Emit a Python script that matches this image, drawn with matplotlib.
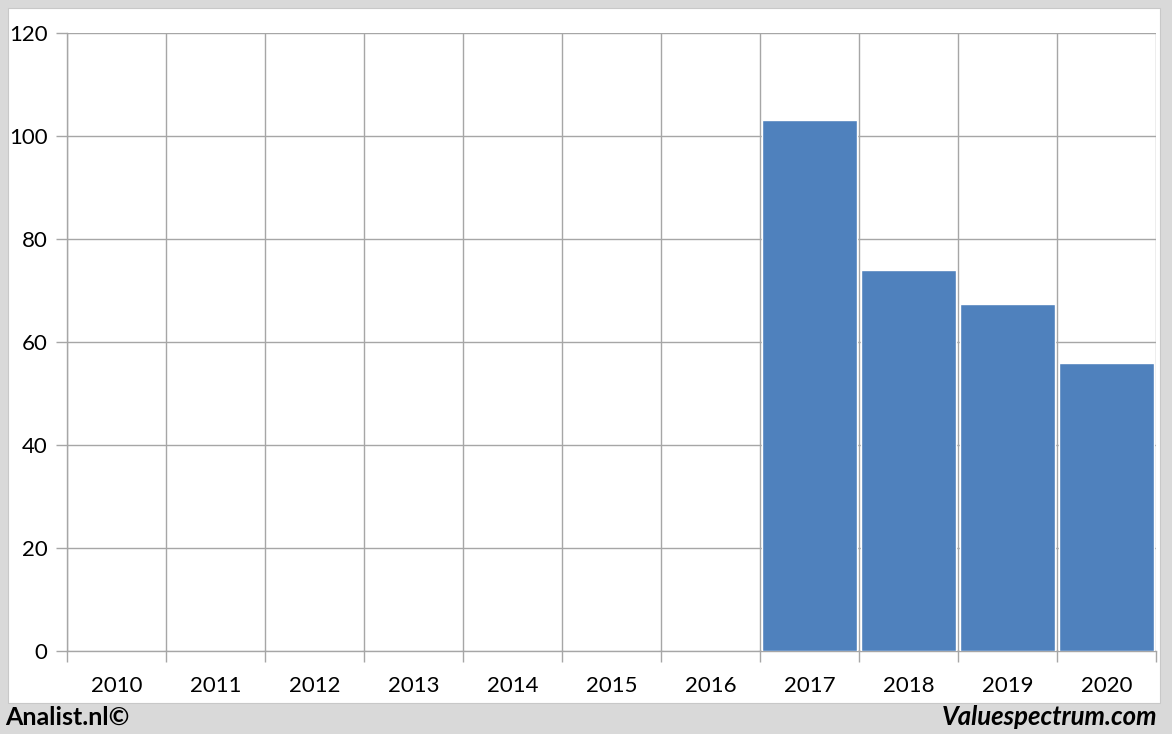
import matplotlib
matplotlib.use("Agg")
import matplotlib.pyplot as plt
from matplotlib.patches import Rectangle
import numpy as np

years = ["2010", "2011", "2012", "2013", "2014", "2015", "2016", "2017", "2018", "2019", "2020"]
values = [0, 0, 0, 0, 0, 0, 0, 103.2, 73.9, 67.3, 55.9]
yticks = [0, 20, 40, 60, 80, 100, 120]

W, H = 1172, 734
fig = plt.figure(figsize=(W / 100, H / 100), dpi=100)
fig.patch.set_facecolor("#d9d9d9")
fig.patches.append(Rectangle((8 / W, 1 - 703 / H), (1160 - 8) / W, (703 - 8) / H,
                             transform=fig.transFigure, facecolor="white",
                             edgecolor="#c8c8c8", linewidth=0.8, zorder=-5))

ax = fig.add_axes([67 / W, 1 - 651 / H, (1156 - 67) / W, (651 - 33) / H])
ax.set_facecolor("none")
x = np.arange(len(years))
ax.bar(x, values, width=0.95, color="#4f81bd", edgecolor="white", linewidth=1.0, zorder=3)

ax.set_xlim(-0.5, len(years) - 0.5)
ax.set_ylim(0, 120)
ax.set_yticks(yticks)
ax.set_yticklabels([str(v) for v in yticks])
ax.set_xticks(np.arange(len(years) + 1) - 0.5)
ax.set_xticklabels([])
ax.set_xticks(x, minor=True)
ax.set_xticklabels(years, minor=True)

grid_c = "#a6a6a6"
ax.grid(True, which="major", color=grid_c, linewidth=1.0, zorder=1)
for s in ["top", "right"]:
    ax.spines[s].set_visible(False)
for s in ["left", "bottom"]:
    ax.spines[s].set_color(grid_c)
    ax.spines[s].set_linewidth(1.0)

ax.tick_params(axis="both", which="major", color=grid_c, length=8, width=1.0)
ax.tick_params(axis="x", which="minor", length=0, pad=18)
ax.tick_params(axis="y", which="major", pad=6)
for lbl in ax.get_yticklabels() + ax.get_xticklabels(minor=True):
    lbl.set_fontfamily("Lato")
    lbl.set_fontsize(16)
    lbl.set_color("black")

fig.text(5 / W, 1 - 717 / H, "Analist.nl©", fontsize=18, fontweight="bold",
         family="Lato", va="center", ha="left", color="black")
fig.text(1157 / W, 1 - 717 / H, "Valuespectrum.com", fontsize=18.5, fontweight="bold",
         style="italic", family="Lato", va="center", ha="right", color="black")

fig.savefig("out.png", dpi=100, facecolor=fig.get_facecolor())
